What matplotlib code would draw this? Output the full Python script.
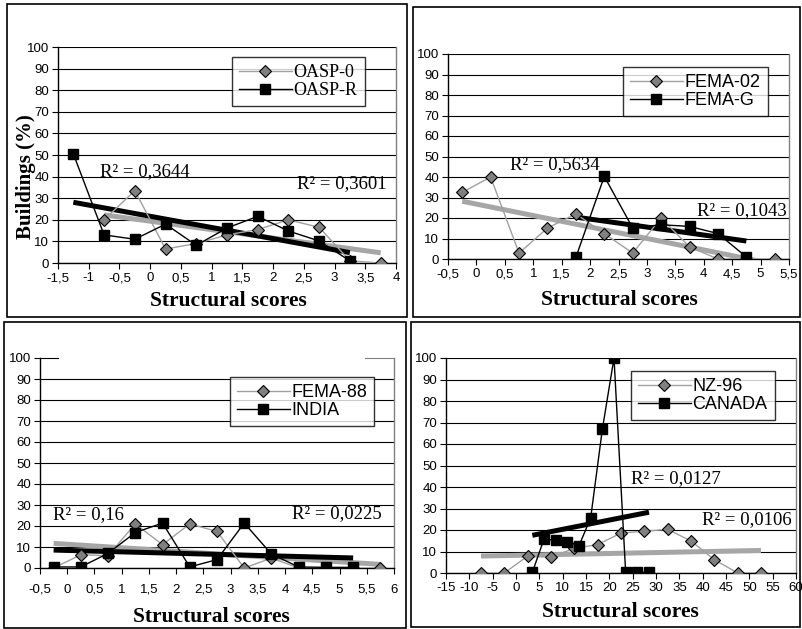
import matplotlib
matplotlib.use("Agg")
import matplotlib.pyplot as plt
import numpy as np
from matplotlib.patches import Rectangle
from matplotlib.ticker import FuncFormatter, MultipleLocator

# ---------------- data ----------------
# Panel 1
oasp0_x = [-0.75, -0.25, 0.25, 0.75, 1.25, 1.75, 2.25, 2.75, 3.25, 3.75]
oasp0_y = [20, 33.5, 6.5, 9, 13, 15.5, 20, 16.5, 1, 0]
oaspr_x = [-1.25, -0.75, -0.25, 0.25, 0.75, 1.25, 1.75, 2.25, 2.75, 3.25]
oaspr_y = [50.5, 13, 11, 18, 8.2, 16.2, 21.6, 14.8, 10.2, 1]
# Panel 2
fema02_x = [-0.25, 0.25, 0.75, 1.25, 1.75, 2.25, 2.75, 3.25, 3.75, 4.25, 4.75, 5.25]
fema02_y = [32.5, 40, 2.9, 15.1, 22, 12.4, 2.9, 20, 5.9, 0, 0, 0]
femag_x = [1.75, 2.25, 2.75, 3.25, 3.75, 4.25, 4.75]
femag_y = [0.8, 40.3, 15.1, 16.7, 15.9, 12.4, 1]
# Panel 3
fema88_x = [-0.25, 0.25, 0.75, 1.25, 1.75, 2.25, 2.75, 3.25, 3.75, 4.25, 4.75, 5.25, 5.75]
fema88_y = [0, 6.3, 5.9, 21, 11.1, 21, 17.4, 0, 4.7, 0, 0, 0, 0]
india_x = [-0.25, 0.25, 0.75, 1.25, 1.75, 2.25, 2.75, 3.25, 3.75, 4.25, 4.75, 5.25]
india_y = [0.5, 0.5, 7, 16.9, 21.4, 0.5, 4, 21.4, 6.6, 0.5, 0.3, 0.3]
# Panel 4
nz96_x = [-7.5, -2.5, 2.5, 7.5, 12.5, 17.5, 22.5, 27.5, 32.5, 37.5, 42.5, 47.5, 52.5]
nz96_y = [0, 0, 7.9, 7.4, 11.5, 13.2, 18.6, 19.4, 20.3, 14.9, 6.2, 0, 0]
canada_x = [3.5, 6, 8.5, 11, 13.5, 16, 18.5, 21, 23.5, 26, 28.5]
canada_y = [0.3, 15.8, 15.2, 14.6, 12.7, 25.6, 66.8, 100, 0.3, 0.3, 0.3]

labels = [("OASP-0", "OASP-R"), ("FEMA-02", "FEMA-G"), ("FEMA-88", "INDIA"), ("NZ-96", "CANADA")]
r2_texts = [("R² = 0,3644", "R² = 0,3601"), ("R² = 0,5634", "R² = 0,1043"),
            ("R² = 0,16", "R² = 0,0225"), ("R² = 0,0127", "R² = 0,0106")]
xlims = [(-1.5, 4), (-0.5, 5.5), (-0.5, 6), (-15, 60)]
xsteps = [0.5, 0.5, 0.5, 5]
y_ticks = list(range(0, 101, 10))
xlabel = "Structural scores"
ylabel = "Buildings (%)"

# ---------------- layout (pixels) ----------------
W, H = 803, 629
SERIF = "Liberation Serif"
SANS = "Liberation Sans"

def fx(x):
    return x / W

def fy(y):
    return 1 - y / H

# axes boxes: left, right, top(100), bottom(0)
ax_boxes = [(58, 396, 47, 263), (448, 789, 54, 259), (40, 394, 358, 568), (446, 796, 358, 573)]
frames = [(7, 407, 4, 317), (413, 800, 7, 317), (4, 406, 322, 627.5), (411, 800, 322, 627)]
legend_pos = [(232, 57), (623, 67), (230, 377), (631, 371)]
legend_font = [SERIF, SANS, SANS, SANS]
r2_pos = [((100, 172), (297, 184)), ((510, 165), (697, 211)),
          ((53, 515), (292, 514)), ((631, 479), (702, 520))]
xlabel_pos = [(228, 301), (619, 300), (211, 617), (620, 612)]
xtick_pad = [2.5, 2.5, 7.5, 2.5]

series = [(oasp0_x, oasp0_y, oaspr_x, oaspr_y),
          (fema02_x, fema02_y, femag_x, femag_y),
          (fema88_x, fema88_y, india_x, india_y),
          (nz96_x, nz96_y, canada_x, canada_y)]

GRAY_LINE = "#a0a0a0"
GRAY_MARK = "#808080"
GRAY_TREND = "#a6a6a6"

fig = plt.figure(figsize=(W / 100, H / 100), dpi=100)
fig.patch.set_facecolor("white")

def fmt(v, pos):
    s = f"{v:g}"
    return s.replace(".", ",")

for i in range(4):
    l, r, t, b = ax_boxes[i]
    ax = fig.add_axes([fx(l), fy(b), (r - l) / W, (b - t) / H])
    gx, gy, kx, ky = series[i]

    # trendlines (least squares)
    for xs, ys, col in ((gx, gy, GRAY_TREND), (kx, ky, "black")):
        p = np.polyfit(xs, ys, 1)
        xx = np.array([min(xs), max(xs)])
        ax.plot(xx, np.polyval(p, xx), color=col, lw=3.6, zorder=3, solid_capstyle="butt")

    ax.plot(gx, gy, color=GRAY_LINE, lw=1.0, marker="D", ms=6, mfc=GRAY_MARK,
            mec="black", mew=0.8, zorder=4, label=labels[i][0])
    ax.plot(kx, ky, color="black", lw=1.0, marker="s", ms=7, mfc="black",
            mec="black", zorder=5, label=labels[i][1])

    ax.set_xlim(*xlims[i])
    ax.set_ylim(0, 100)
    ax.xaxis.set_major_locator(MultipleLocator(xsteps[i]))
    ax.xaxis.set_major_formatter(FuncFormatter(fmt))
    ax.set_yticks(y_ticks)
    ax.yaxis.grid(True, color="black", lw=0.8)
    ax.set_axisbelow(True)
    for sp in ("top", "right"):
        ax.spines[sp].set_color("#808080")
        ax.spines[sp].set_linewidth(1.0)
    for sp in ("left", "bottom"):
        ax.spines[sp].set_color("black")
        ax.spines[sp].set_linewidth(1.0)
    ax.spines["top"].set_visible(False)
    ax.tick_params(axis="both", direction="out", length=4, width=0.8, color="black",
                   labelsize=9.5)
    ax.tick_params(axis="y", pad=2.5)
    ax.tick_params(axis="x", pad=xtick_pad[i])
    for lab in ax.get_xticklabels() + ax.get_yticklabels():
        lab.set_fontfamily(SANS)

    if i == 2:
        ax.yaxis.get_gridlines()[-1].set_visible(False)
        ax.plot([0, 0.05], [1, 1], transform=ax.transAxes, color="black", lw=0.8, clip_on=False)
        ax.plot([0.918, 1], [1, 1], transform=ax.transAxes, color="#808080", lw=0.8, clip_on=False)

    lx, ly = legend_pos[i]
    leg = ax.legend(loc="upper left", bbox_to_anchor=(fx(lx), fy(ly)),
                    bbox_transform=fig.transFigure, borderaxespad=0,
                    prop={"family": legend_font[i], "size": 13},
                    frameon=True, fancybox=False, shadow=False, handlelength=2.9,
                    handletextpad=0.1, labelspacing=0.05, borderpad=0.4)
    leg.get_frame().set_edgecolor("black")
    leg.get_frame().set_linewidth(1.0)
    leg.set_zorder(10)

    for (tx, ty), txt in zip(r2_pos[i], r2_texts[i]):
        fig.text(fx(tx), fy(ty), txt, ha="left", va="center", fontsize=13.5,
                 family=SERIF, zorder=20)

    cx, cy = xlabel_pos[i]
    fig.text(fx(cx), fy(cy), xlabel, ha="center", va="center", fontsize=15.5,
             family=SERIF, fontweight="bold")

    x0, x1, y0, y1 = frames[i]
    fig.add_artist(Rectangle((fx(x0), fy(y1)), (x1 - x0) / W, (y1 - y0) / H,
                             transform=fig.transFigure, fill=False, ec="black", lw=1.2))

fig.text(fx(26), fy(177), ylabel, ha="center", va="center", rotation=90,
         fontsize=15, family=SERIF, fontweight="bold", zorder=20)

fig.savefig("out.png", dpi=100, facecolor="white")
